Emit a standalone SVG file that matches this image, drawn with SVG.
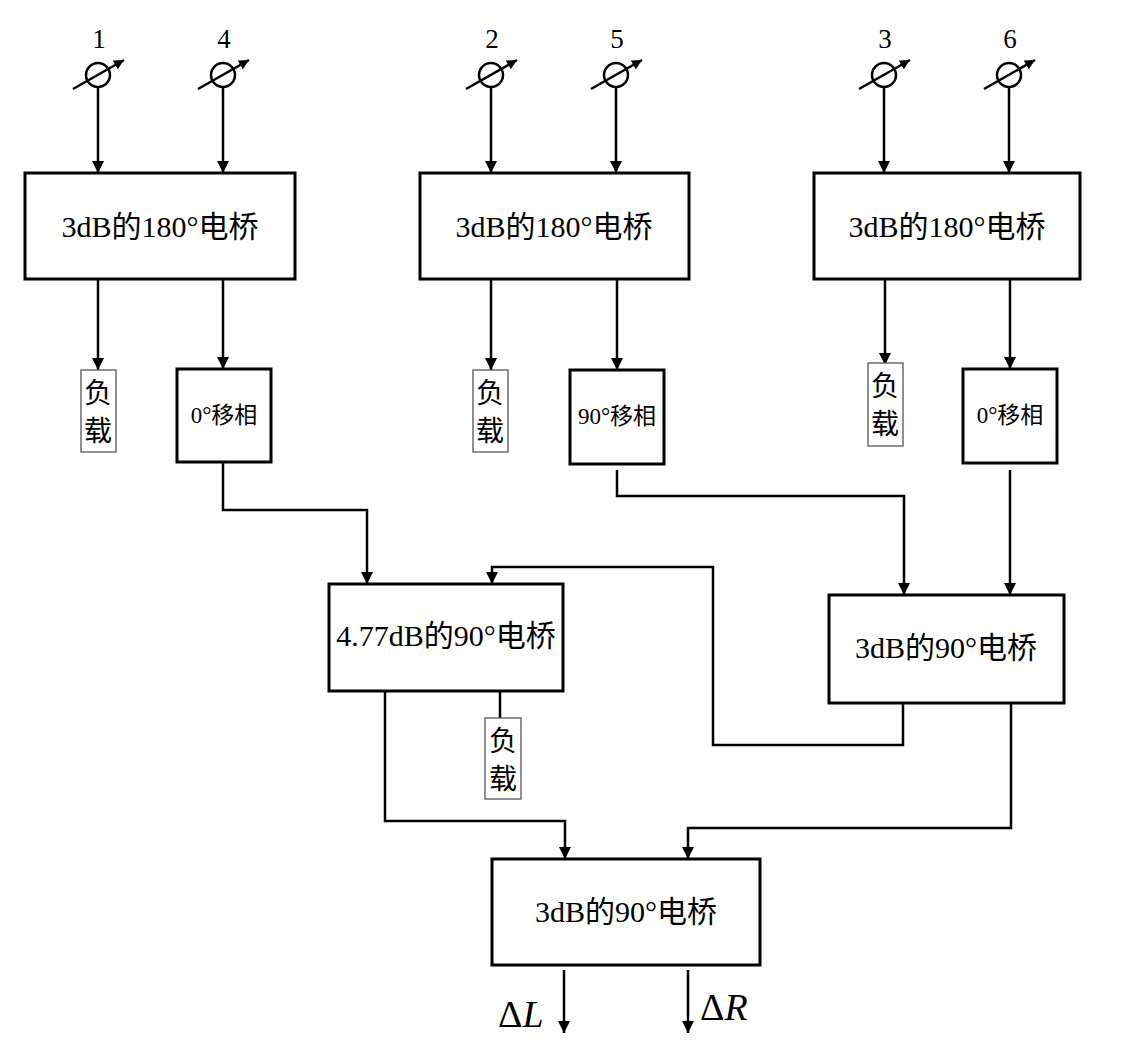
<svg xmlns="http://www.w3.org/2000/svg" width="1121" height="1049" viewBox="0 0 1121 1049">
<defs>
<marker id="ah" viewBox="0 0 10 10" refX="10" refY="5" markerWidth="10" markerHeight="10" markerUnits="userSpaceOnUse" orient="auto">
<path d="M0,0 L10,5 L0,10 Z" fill="#000"/>
</marker>
<marker id="ah2" viewBox="0 0 10 10" refX="10" refY="5" markerWidth="12" markerHeight="12" markerUnits="userSpaceOnUse" orient="auto">
<path d="M0,0 L10,5 L0,10 Z" fill="#000"/>
</marker>
<g id="ps">
<circle cx="0" cy="0" r="12" fill="none" stroke="#000" stroke-width="2.5"/>
<line x1="-25" y1="14" x2="26" y2="-15" stroke="#000" stroke-width="2.5" marker-end="url(#ah)"/>
</g>
</defs>
<style>
.box{fill:#fff;stroke:#000;stroke-width:3}
.load{fill:#fff;stroke:#555;stroke-width:1.3}
.ln{fill:none;stroke:#000;stroke-width:2.5}
.arr{fill:none;stroke:#000;stroke-width:2.5;marker-end:url(#ah2)}
.t{font-family:"Liberation Serif","Noto Sans CJK SC",serif;font-size:30px;text-anchor:middle;fill:#000}
.l{font-family:"Liberation Serif","Noto Sans CJK SC",serif;font-size:28px;text-anchor:middle;fill:#000}
.s{font-family:"Liberation Serif","Noto Sans CJK SC",serif;font-size:23px;text-anchor:middle;fill:#000}
.n{font-family:"Liberation Serif",serif;font-size:27px;text-anchor:middle;fill:#000}
.d{font-family:"Liberation Serif",serif;font-size:38px;fill:#000}
</style>
<rect width="1121" height="1049" fill="#fff"/>

<g id="phase-shifters">
<g id="ps1"><use href="#ps" x="98" y="75"/><text class="n" x="99" y="48">1</text></g>
<g id="ps4"><use href="#ps" x="223" y="75"/><text class="n" x="224" y="48">4</text></g>
<g id="ps2"><use href="#ps" x="491" y="75"/><text class="n" x="492" y="48">2</text></g>
<g id="ps5"><use href="#ps" x="616" y="75"/><text class="n" x="617" y="48">5</text></g>
<g id="ps3"><use href="#ps" x="884" y="75"/><text class="n" x="885" y="48">3</text></g>
<g id="ps6"><use href="#ps" x="1009" y="75"/><text class="n" x="1010" y="48">6</text></g>
</g>

<g id="connectors">
<line class="arr" x1="98" y1="87" x2="98" y2="173"/>
<line class="arr" x1="223" y1="87" x2="223" y2="173"/>
<line class="arr" x1="491" y1="87" x2="491" y2="173"/>
<line class="arr" x1="616" y1="87" x2="616" y2="173"/>
<line class="arr" x1="884" y1="87" x2="884" y2="173"/>
<line class="arr" x1="1009" y1="87" x2="1009" y2="173"/>

<line class="arr" x1="98" y1="280" x2="98" y2="370"/>
<line class="arr" x1="223" y1="280" x2="223" y2="369"/>
<line class="arr" x1="491" y1="280" x2="491" y2="370"/>
<line class="arr" x1="617" y1="280" x2="617" y2="370"/>
<line class="arr" x1="885" y1="280" x2="885" y2="365"/>
<line class="arr" x1="1010" y1="280" x2="1010" y2="369"/>

<polyline class="arr" points="223,462 223,510 367,510 367,584"/>
<polyline class="arr" points="617,470 617,496 904,496 904,595"/>
<line class="arr" x1="1010" y1="470" x2="1010" y2="595"/>
<polyline class="arr" points="903,703 903,745 713,745 713,567 492,567 492,584"/>
<line class="ln" x1="500" y1="692" x2="500" y2="718"/>
<polyline class="arr" points="385,690 385,821 565,821 565,859"/>
<polyline class="arr" points="1011,700 1011,828 688,828 688,859"/>
<line class="arr" x1="564" y1="970" x2="564" y2="1033"/>
<line class="arr" x1="688" y1="970" x2="688" y2="1033"/>
</g>

<g id="bridge1"><rect class="box" x="25" y="173" width="270" height="106"/><text class="t" x="160" y="237">3dB的180°电桥</text></g>
<g id="bridge2"><rect class="box" x="420" y="173" width="269" height="106"/><text class="t" x="554" y="237">3dB的180°电桥</text></g>
<g id="bridge3"><rect class="box" x="814" y="173" width="266" height="106"/><text class="t" x="947" y="237">3dB的180°电桥</text></g>

<g id="load1"><rect class="load" x="81" y="370" width="35" height="82"/><text class="l" x="98" y="403">负</text><text class="l" x="98" y="441">载</text></g>
<g id="load2"><rect class="load" x="473" y="370" width="35" height="82"/><text class="l" x="490" y="403">负</text><text class="l" x="490" y="441">载</text></g>
<g id="load3"><rect class="load" x="868" y="363" width="35" height="83"/><text class="l" x="885" y="396">负</text><text class="l" x="885" y="434">载</text></g>
<g id="load4"><rect class="load" x="485" y="718" width="36" height="81"/><text class="l" x="503" y="751">负</text><text class="l" x="503" y="789">载</text></g>

<g id="shift1"><rect class="box" x="177" y="369" width="94" height="93"/><text class="s" x="224" y="423">0°移相</text></g>
<g id="shift2"><rect class="box" x="570" y="370" width="94" height="94"/><text class="s" x="617" y="424">90°移相</text></g>
<g id="shift3"><rect class="box" x="963" y="369" width="94" height="94"/><text class="s" x="1010" y="423">0°移相</text></g>

<g id="bridge477"><rect class="box" x="329" y="584" width="234" height="107"/><text class="t" x="446" y="646">4.77dB的90°电桥</text></g>
<g id="bridge90r"><rect class="box" x="829" y="595" width="235" height="108"/><text class="t" x="946" y="658">3dB的90°电桥</text></g>
<g id="bridge90b"><rect class="box" x="492" y="859" width="268" height="106"/><text class="t" x="626" y="922">3dB的90°电桥</text></g>

<g id="outputs">
<text class="d" x="498" y="1027">Δ<tspan font-style="italic">L</tspan></text>
<text class="d" x="700" y="1020">Δ<tspan font-style="italic">R</tspan></text>
</g>
</svg>
